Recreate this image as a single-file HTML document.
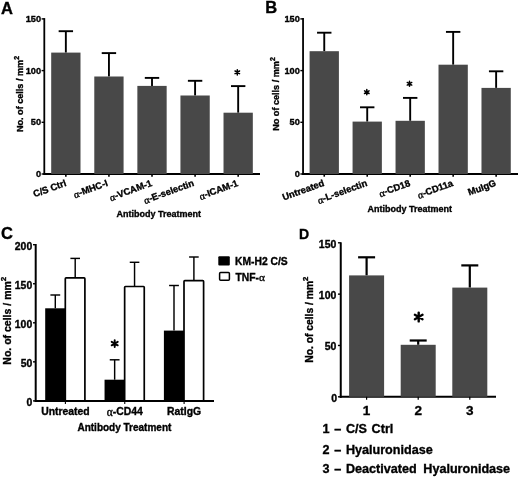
<!DOCTYPE html><html><head><meta charset="utf-8"><style>html,body{margin:0;padding:0;background:#fff;}svg{display:block;will-change:transform;} text{stroke:#000;stroke-width:0.35px;}</style></head><body>
<svg width="520" height="477" viewBox="0 0 520 477" font-family='"Liberation Sans", sans-serif'>
<rect width="520" height="477" fill="#fff"/>
<text x="1" y="13.7" font-size="16.5" text-anchor="start" font-weight="bold" >A</text>
<line x1="44.3" y1="18.1" x2="44.3" y2="175" stroke="#000" stroke-width="1.8" stroke-linecap="butt"/>
<line x1="43.4" y1="174" x2="260" y2="174" stroke="#000" stroke-width="2" stroke-linecap="butt"/>
<line x1="41.6" y1="174" x2="44.3" y2="174" stroke="#000" stroke-width="1.4" stroke-linecap="butt"/>
<text x="41" y="176.9" font-size="9.2" text-anchor="end" font-weight="bold" >0</text>
<line x1="41.6" y1="122.3" x2="44.3" y2="122.3" stroke="#000" stroke-width="1.4" stroke-linecap="butt"/>
<text x="41" y="125.2" font-size="9.2" text-anchor="end" font-weight="bold" >50</text>
<line x1="41.6" y1="70.6" x2="44.3" y2="70.6" stroke="#000" stroke-width="1.4" stroke-linecap="butt"/>
<text x="41" y="73.5" font-size="9.2" text-anchor="end" font-weight="bold" >100</text>
<line x1="41.6" y1="18.9" x2="44.3" y2="18.9" stroke="#000" stroke-width="1.4" stroke-linecap="butt"/>
<text x="41" y="21.8" font-size="9.2" text-anchor="end" font-weight="bold" >150</text>
<line x1="65.85" y1="31.2" x2="65.85" y2="52.6" stroke="#000" stroke-width="1.9" stroke-linecap="butt"/>
<line x1="58.65" y1="31.2" x2="73.05" y2="31.2" stroke="#000" stroke-width="1.9" stroke-linecap="butt"/>
<rect x="51.2" y="52.6" width="29.3" height="121.4" fill="#484848"/>
<line x1="65.85" y1="174" x2="65.85" y2="176.7" stroke="#000" stroke-width="1.6" stroke-linecap="butt"/>
<text transform="translate(66.85,185.6) rotate(-20)" font-size="9.4" font-weight="bold" text-anchor="end">C/S Ctrl</text>
<line x1="108.93" y1="53.1" x2="108.93" y2="76.5" stroke="#000" stroke-width="1.9" stroke-linecap="butt"/>
<line x1="101.73" y1="53.1" x2="116.13" y2="53.1" stroke="#000" stroke-width="1.9" stroke-linecap="butt"/>
<rect x="94.28" y="76.5" width="29.3" height="97.5" fill="#484848"/>
<line x1="108.93" y1="174" x2="108.93" y2="176.7" stroke="#000" stroke-width="1.6" stroke-linecap="butt"/>
<text transform="translate(108.33,185.6) rotate(-20)" font-size="9.4" font-weight="bold" text-anchor="end"><tspan font-family="'Liberation Serif', serif" font-weight="normal" font-size="1.1em" dy="0.7">&#945;</tspan><tspan dy="-0.7">-MHC-I</tspan></text>
<line x1="152.01" y1="77.9" x2="152.01" y2="85.9" stroke="#000" stroke-width="1.9" stroke-linecap="butt"/>
<line x1="144.81" y1="77.9" x2="159.21" y2="77.9" stroke="#000" stroke-width="1.9" stroke-linecap="butt"/>
<rect x="137.36" y="85.9" width="29.3" height="88.1" fill="#484848"/>
<line x1="152.01" y1="174" x2="152.01" y2="176.7" stroke="#000" stroke-width="1.6" stroke-linecap="butt"/>
<text transform="translate(152.61,185.6) rotate(-20)" font-size="9.4" font-weight="bold" text-anchor="end"><tspan font-family="'Liberation Serif', serif" font-weight="normal" font-size="1.1em" dy="0.7">&#945;</tspan><tspan dy="-0.7">-VCAM-1</tspan></text>
<line x1="195.09" y1="80.8" x2="195.09" y2="95.5" stroke="#000" stroke-width="1.9" stroke-linecap="butt"/>
<line x1="187.89" y1="80.8" x2="202.29" y2="80.8" stroke="#000" stroke-width="1.9" stroke-linecap="butt"/>
<rect x="180.44" y="95.5" width="29.3" height="78.5" fill="#484848"/>
<line x1="195.09" y1="174" x2="195.09" y2="176.7" stroke="#000" stroke-width="1.6" stroke-linecap="butt"/>
<text transform="translate(194.69,185.6) rotate(-20)" font-size="9.4" font-weight="bold" text-anchor="end"><tspan font-family="'Liberation Serif', serif" font-weight="normal" font-size="1.1em" dy="0.7">&#945;</tspan><tspan dy="-0.7">-E-selectin</tspan></text>
<line x1="238.17" y1="86.1" x2="238.17" y2="112.7" stroke="#000" stroke-width="1.9" stroke-linecap="butt"/>
<line x1="230.97" y1="86.1" x2="245.37" y2="86.1" stroke="#000" stroke-width="1.9" stroke-linecap="butt"/>
<rect x="223.52" y="112.7" width="29.3" height="61.3" fill="#484848"/>
<line x1="238.17" y1="174" x2="238.17" y2="176.7" stroke="#000" stroke-width="1.6" stroke-linecap="butt"/>
<text transform="translate(238.77,185.6) rotate(-20)" font-size="9.4" font-weight="bold" text-anchor="end"><tspan font-family="'Liberation Serif', serif" font-weight="normal" font-size="1.1em" dy="0.7">&#945;</tspan><tspan dy="-0.7">-ICAM-1</tspan></text>
<path d="M237.3 69.7L237.3 74.9M235.05 71L239.55 73.6M235.05 73.6L239.55 71" stroke="#000" stroke-width="1.5" stroke-linecap="round" fill="none"/>
<text transform="translate(23.3,94) rotate(-90)" font-size="9.1" font-weight="bold" text-anchor="middle">No. of cells / mm<tspan font-size="7" dy="-4">2</tspan></text>
<text x="158.75" y="216.75" font-size="9" text-anchor="middle" font-weight="bold" >Antibody Treatment</text>
<text x="265.2" y="13.3" font-size="16.5" text-anchor="start" font-weight="bold" >B</text>
<line x1="303.05" y1="18.1" x2="303.05" y2="175" stroke="#000" stroke-width="1.8" stroke-linecap="butt"/>
<line x1="302.15" y1="174" x2="518" y2="174" stroke="#000" stroke-width="2" stroke-linecap="butt"/>
<line x1="300.35" y1="174" x2="303.05" y2="174" stroke="#000" stroke-width="1.4" stroke-linecap="butt"/>
<text x="299.75" y="176.9" font-size="9.2" text-anchor="end" font-weight="bold" >0</text>
<line x1="300.35" y1="122.3" x2="303.05" y2="122.3" stroke="#000" stroke-width="1.4" stroke-linecap="butt"/>
<text x="299.75" y="125.2" font-size="9.2" text-anchor="end" font-weight="bold" >50</text>
<line x1="300.35" y1="70.6" x2="303.05" y2="70.6" stroke="#000" stroke-width="1.4" stroke-linecap="butt"/>
<text x="299.75" y="73.5" font-size="9.2" text-anchor="end" font-weight="bold" >100</text>
<line x1="300.35" y1="18.9" x2="303.05" y2="18.9" stroke="#000" stroke-width="1.4" stroke-linecap="butt"/>
<text x="299.75" y="21.8" font-size="9.2" text-anchor="end" font-weight="bold" >150</text>
<line x1="324.25" y1="32.7" x2="324.25" y2="51.2" stroke="#000" stroke-width="1.9" stroke-linecap="butt"/>
<line x1="317.05" y1="32.7" x2="331.45" y2="32.7" stroke="#000" stroke-width="1.9" stroke-linecap="butt"/>
<rect x="309.6" y="51.2" width="29.3" height="122.8" fill="#484848"/>
<line x1="324.25" y1="174" x2="324.25" y2="176.7" stroke="#000" stroke-width="1.6" stroke-linecap="butt"/>
<text transform="translate(324.85,185.6) rotate(-20)" font-size="9.4" font-weight="bold" text-anchor="end">Untreated</text>
<line x1="367.22" y1="107.3" x2="367.22" y2="121.6" stroke="#000" stroke-width="1.9" stroke-linecap="butt"/>
<line x1="360.02" y1="107.3" x2="374.42" y2="107.3" stroke="#000" stroke-width="1.9" stroke-linecap="butt"/>
<rect x="352.57" y="121.6" width="29.3" height="52.4" fill="#484848"/>
<line x1="367.22" y1="174" x2="367.22" y2="176.7" stroke="#000" stroke-width="1.6" stroke-linecap="butt"/>
<text transform="translate(367.82,185.6) rotate(-20)" font-size="9.4" font-weight="bold" text-anchor="end"><tspan font-family="'Liberation Serif', serif" font-weight="normal" font-size="1.1em" dy="0.7">&#945;</tspan><tspan dy="-0.7">-L-selectin</tspan></text>
<line x1="410.19" y1="97.9" x2="410.19" y2="120.8" stroke="#000" stroke-width="1.9" stroke-linecap="butt"/>
<line x1="402.99" y1="97.9" x2="417.39" y2="97.9" stroke="#000" stroke-width="1.9" stroke-linecap="butt"/>
<rect x="395.54" y="120.8" width="29.3" height="53.2" fill="#484848"/>
<line x1="410.19" y1="174" x2="410.19" y2="176.7" stroke="#000" stroke-width="1.6" stroke-linecap="butt"/>
<text transform="translate(410.79,185.6) rotate(-20)" font-size="9.4" font-weight="bold" text-anchor="end"><tspan font-family="'Liberation Serif', serif" font-weight="normal" font-size="1.1em" dy="0.7">&#945;</tspan><tspan dy="-0.7">-CD18</tspan></text>
<line x1="453.16" y1="31.9" x2="453.16" y2="64.7" stroke="#000" stroke-width="1.9" stroke-linecap="butt"/>
<line x1="445.96" y1="31.9" x2="460.36" y2="31.9" stroke="#000" stroke-width="1.9" stroke-linecap="butt"/>
<rect x="438.51" y="64.7" width="29.3" height="109.3" fill="#484848"/>
<line x1="453.16" y1="174" x2="453.16" y2="176.7" stroke="#000" stroke-width="1.6" stroke-linecap="butt"/>
<text transform="translate(453.76,185.6) rotate(-20)" font-size="9.4" font-weight="bold" text-anchor="end"><tspan font-family="'Liberation Serif', serif" font-weight="normal" font-size="1.1em" dy="0.7">&#945;</tspan><tspan dy="-0.7">-CD11a</tspan></text>
<line x1="496.13" y1="71.3" x2="496.13" y2="87.9" stroke="#000" stroke-width="1.9" stroke-linecap="butt"/>
<line x1="488.93" y1="71.3" x2="503.33" y2="71.3" stroke="#000" stroke-width="1.9" stroke-linecap="butt"/>
<rect x="481.48" y="87.9" width="29.3" height="86.1" fill="#484848"/>
<line x1="496.13" y1="174" x2="496.13" y2="176.7" stroke="#000" stroke-width="1.6" stroke-linecap="butt"/>
<text transform="translate(496.73,185.6) rotate(-20)" font-size="9.4" font-weight="bold" text-anchor="end">MuIgG</text>
<path d="M366.8 89.6L366.8 94.8M364.55 90.9L369.05 93.5M364.55 93.5L369.05 90.9" stroke="#000" stroke-width="1.5" stroke-linecap="round" fill="none"/>
<path d="M409.5 81.15L409.5 86.35M407.25 82.45L411.75 85.05M407.25 85.05L411.75 82.45" stroke="#000" stroke-width="1.5" stroke-linecap="round" fill="none"/>
<text transform="translate(279.1,94) rotate(-90)" font-size="9.1" font-weight="bold" text-anchor="middle">No of cells / mm<tspan font-size="7" dy="-4">2</tspan></text>
<text x="409.75" y="211.8" font-size="9" text-anchor="middle" font-weight="bold" >Antibody Treatment</text>
<line x1="35.7" y1="244" x2="35.7" y2="401.9" stroke="#000" stroke-width="2" stroke-linecap="butt"/>
<line x1="34.7" y1="400.9" x2="214" y2="400.9" stroke="#000" stroke-width="2" stroke-linecap="butt"/>
<line x1="33" y1="400.9" x2="35.7" y2="400.9" stroke="#000" stroke-width="1.4" stroke-linecap="butt"/>
<text x="32.2" y="406.2" font-size="10.4" text-anchor="end" font-weight="bold" >0</text>
<line x1="33" y1="361.85" x2="35.7" y2="361.85" stroke="#000" stroke-width="1.4" stroke-linecap="butt"/>
<text x="32.2" y="367.15" font-size="10.4" text-anchor="end" font-weight="bold" >50</text>
<line x1="33" y1="322.8" x2="35.7" y2="322.8" stroke="#000" stroke-width="1.4" stroke-linecap="butt"/>
<text x="32.2" y="328.1" font-size="10.4" text-anchor="end" font-weight="bold" >100</text>
<line x1="33" y1="283.75" x2="35.7" y2="283.75" stroke="#000" stroke-width="1.4" stroke-linecap="butt"/>
<text x="32.2" y="289.05" font-size="10.4" text-anchor="end" font-weight="bold" >150</text>
<line x1="33" y1="244.7" x2="35.7" y2="244.7" stroke="#000" stroke-width="1.4" stroke-linecap="butt"/>
<text x="32.2" y="250" font-size="10.4" text-anchor="end" font-weight="bold" >200</text>
<line x1="55.3" y1="295" x2="55.3" y2="308.3" stroke="#000" stroke-width="1.45" stroke-linecap="butt"/>
<line x1="50.4" y1="295" x2="60.2" y2="295" stroke="#000" stroke-width="1.45" stroke-linecap="butt"/>
<line x1="75.2" y1="258.4" x2="75.2" y2="277.9" stroke="#000" stroke-width="1.45" stroke-linecap="butt"/>
<line x1="70.4" y1="258.4" x2="80" y2="258.4" stroke="#000" stroke-width="1.45" stroke-linecap="butt"/>
<rect x="45.2" y="308.3" width="20.2" height="92.6" fill="#000"/>
<rect x="65.3" y="277.9" width="19.6" height="123" rx="0.8" fill="#fff" stroke="#000" stroke-width="1.7"/>
<line x1="65.4" y1="400.9" x2="65.4" y2="403.9" stroke="#000" stroke-width="1.1" stroke-linecap="butt"/>
<text x="65.4" y="414.8" font-size="10.4" text-anchor="middle" font-weight="bold" >Untreated</text>
<line x1="114.65" y1="359.8" x2="114.65" y2="379.7" stroke="#000" stroke-width="1.45" stroke-linecap="butt"/>
<line x1="109.75" y1="359.8" x2="119.55" y2="359.8" stroke="#000" stroke-width="1.45" stroke-linecap="butt"/>
<line x1="134.55" y1="262.3" x2="134.55" y2="286.5" stroke="#000" stroke-width="1.45" stroke-linecap="butt"/>
<line x1="129.75" y1="262.3" x2="139.35" y2="262.3" stroke="#000" stroke-width="1.45" stroke-linecap="butt"/>
<rect x="104.55" y="379.7" width="20.2" height="21.2" fill="#000"/>
<rect x="124.65" y="286.5" width="19.6" height="114.4" rx="0.8" fill="#fff" stroke="#000" stroke-width="1.7"/>
<line x1="124.75" y1="400.9" x2="124.75" y2="403.9" stroke="#000" stroke-width="1.1" stroke-linecap="butt"/>
<text x="124.75" y="414.8" font-size="10.4" text-anchor="middle" font-weight="bold" ><tspan font-family="'Liberation Serif', serif" font-weight="normal" font-size="1.1em" dy="0.7">&#945;</tspan><tspan dy="-0.7">-CD44</tspan></text>
<line x1="174" y1="285.5" x2="174" y2="330.6" stroke="#000" stroke-width="1.45" stroke-linecap="butt"/>
<line x1="169.1" y1="285.5" x2="178.9" y2="285.5" stroke="#000" stroke-width="1.45" stroke-linecap="butt"/>
<line x1="193.9" y1="257" x2="193.9" y2="280.6" stroke="#000" stroke-width="1.45" stroke-linecap="butt"/>
<line x1="189.1" y1="257" x2="198.7" y2="257" stroke="#000" stroke-width="1.45" stroke-linecap="butt"/>
<rect x="163.9" y="330.6" width="20.2" height="70.3" fill="#000"/>
<rect x="184" y="280.6" width="19.6" height="120.3" rx="0.8" fill="#fff" stroke="#000" stroke-width="1.7"/>
<line x1="184.1" y1="400.9" x2="184.1" y2="403.9" stroke="#000" stroke-width="1.1" stroke-linecap="butt"/>
<text x="184.1" y="414.8" font-size="10.4" text-anchor="middle" font-weight="bold" >RatIgG</text>
<path d="M114.7 340.1L114.7 347.1M111.67 341.85L117.73 345.35M111.67 345.35L117.73 341.85" stroke="#000" stroke-width="1.9" stroke-linecap="round" fill="none"/>
<text x="1.1" y="238.7" font-size="16.5" text-anchor="start" font-weight="bold" >C</text>
<text transform="translate(10.5,320.7) rotate(-90)" font-size="10.5" font-weight="bold" text-anchor="middle">No. of cells / mm<tspan font-size="8" dy="-4.5">2</tspan></text>
<text x="124.4" y="430.5" font-size="10" text-anchor="middle" font-weight="bold" >Antibody Treatment</text>
<rect x="218.3" y="256.3" width="11.5" height="9.1" rx="1" fill="#000"/>
<rect x="219.6" y="272.4" width="9.8" height="7.9" rx="1" fill="#fff" stroke="#000" stroke-width="1.5"/>
<text x="235" y="265.2" font-size="10.3" text-anchor="start" font-weight="bold" >KM-H2 C/S</text>
<text x="235.5" y="281" font-size="10.3" text-anchor="start" font-weight="bold" >TNF-<tspan font-family="'Liberation Serif', serif" font-weight="normal" font-size="1.1em">&#945;</tspan></text>
<line x1="340.75" y1="242.3" x2="340.75" y2="397.8" stroke="#000" stroke-width="2" stroke-linecap="butt"/>
<line x1="339.75" y1="396.8" x2="496" y2="396.8" stroke="#000" stroke-width="2" stroke-linecap="butt"/>
<line x1="337.95" y1="396.8" x2="340.75" y2="396.8" stroke="#000" stroke-width="1.4" stroke-linecap="butt"/>
<text x="337.05" y="401.9" font-size="10.5" text-anchor="end" font-weight="bold" >0</text>
<line x1="337.95" y1="345.47" x2="340.75" y2="345.47" stroke="#000" stroke-width="1.4" stroke-linecap="butt"/>
<text x="336.35" y="350.47" font-size="10.5" text-anchor="end" font-weight="bold" >50</text>
<line x1="337.95" y1="294.13" x2="340.75" y2="294.13" stroke="#000" stroke-width="1.4" stroke-linecap="butt"/>
<text x="336.35" y="299.13" font-size="10.5" text-anchor="end" font-weight="bold" >100</text>
<line x1="337.95" y1="242.8" x2="340.75" y2="242.8" stroke="#000" stroke-width="1.4" stroke-linecap="butt"/>
<text x="336.35" y="247.8" font-size="10.5" text-anchor="end" font-weight="bold" >150</text>
<line x1="366.6" y1="257.3" x2="366.6" y2="275.4" stroke="#000" stroke-width="2.2" stroke-linecap="butt"/>
<line x1="358.1" y1="257.3" x2="375.1" y2="257.3" stroke="#000" stroke-width="2.2" stroke-linecap="butt"/>
<rect x="349.1" y="275.4" width="35" height="121.4" fill="#484848"/>
<line x1="366.6" y1="396.8" x2="366.6" y2="399.8" stroke="#000" stroke-width="1.2" stroke-linecap="butt"/>
<text x="366.6" y="415" font-size="13.5" text-anchor="middle" font-weight="bold" >1</text>
<line x1="418.2" y1="340.5" x2="418.2" y2="344.8" stroke="#000" stroke-width="2.2" stroke-linecap="butt"/>
<line x1="409.7" y1="340.5" x2="426.7" y2="340.5" stroke="#000" stroke-width="2.2" stroke-linecap="butt"/>
<rect x="400.7" y="344.8" width="35" height="52" fill="#484848"/>
<line x1="418.2" y1="396.8" x2="418.2" y2="399.8" stroke="#000" stroke-width="1.2" stroke-linecap="butt"/>
<text x="418.2" y="415" font-size="13.5" text-anchor="middle" font-weight="bold" >2</text>
<line x1="469.8" y1="265.4" x2="469.8" y2="287.6" stroke="#000" stroke-width="2.2" stroke-linecap="butt"/>
<line x1="461.3" y1="265.4" x2="478.3" y2="265.4" stroke="#000" stroke-width="2.2" stroke-linecap="butt"/>
<rect x="452.3" y="287.6" width="35" height="109.2" fill="#484848"/>
<line x1="469.8" y1="396.8" x2="469.8" y2="399.8" stroke="#000" stroke-width="1.2" stroke-linecap="butt"/>
<text x="469.8" y="415" font-size="13.5" text-anchor="middle" font-weight="bold" >3</text>
<path d="M418.7 312.6L418.7 321.4M414.89 314.8L422.51 319.2M414.89 319.2L422.51 314.8" stroke="#000" stroke-width="2.4" stroke-linecap="round" fill="none"/>
<text x="299" y="238.6" font-size="14" text-anchor="start" font-weight="bold" >D</text>
<text transform="translate(312.6,319.7) rotate(-90)" font-size="10.3" font-weight="bold" text-anchor="middle">No. of cells / mm<tspan font-size="7.8" dy="-4.4">2</tspan></text>
<text x="322.5" y="433.3" font-size="12.6" text-anchor="start" font-weight="bold" word-spacing="1.2">1 &#8211; C/S Ctrl</text>
<text x="322.5" y="453.9" font-size="12.6" text-anchor="start" font-weight="bold" word-spacing="1.2">2 &#8211; Hyaluronidase</text>
<text x="322.5" y="472.8" font-size="12.6" text-anchor="start" font-weight="bold" word-spacing="1.2">3 &#8211; Deactivated <tspan dx="2">Hyaluronidase</tspan></text>
</svg></body></html>
